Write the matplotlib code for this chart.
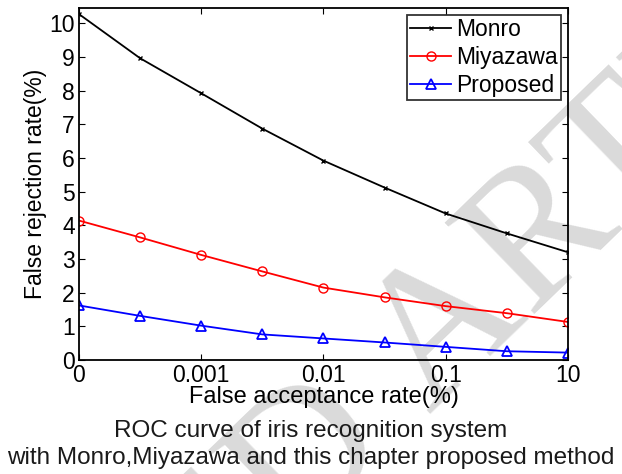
import matplotlib.pyplot as plt

plt.rcParams['font.family'] = ['Liberation Sans', 'DejaVu Sans']

# x positions are evenly spaced categories; only some get a label
tick_pos = [0, 2, 4, 6, 8]
tick_labels = ['0', '0.001', '0.01', '0.1', '10']

monro = [10.27, 8.96, 7.92, 6.87, 5.92, 5.12, 4.35, 3.76, 3.20]
miyazawa = [4.14, 3.64, 3.12, 2.63, 2.15, 1.86, 1.60, 1.39, 1.13]
proposed = [1.62, 1.31, 1.02, 0.76, 0.64, 0.52, 0.39, 0.26, 0.22]
x = list(range(len(monro)))

fs = 16.5

fig = plt.figure(figsize=(6.22, 4.74), dpi=100)
ax = fig.add_axes([0.127, 0.2405, 0.786, 0.7425])
ax.set_facecolor('none')

# faint watermark behind the plot
wm = dict(fontsize=140, color='#dadada', rotation=44, family='Liberation Serif',
          va='baseline', rotation_mode='anchor', zorder=-5)
fig.text(0.69, 0.125, 'ARTICLE', ha='left', **wm)
fig.text(0.69, 0.125, 'ACCEPTED ', ha='right', **wm)

ax.plot(x, monro, color='k', marker='x', markersize=3.5, lw=1.3, label='Monro')
ax.plot(x, miyazawa, color='r', marker='o', markersize=6.5, mfc='none', lw=1.3, label='Miyazawa')
ax.plot(x, proposed, color='b', marker='^', markersize=7, mfc='none', mew=1.3, lw=1.3, label='Proposed')

ax.set_xlim(0, 8)
ax.set_ylim(0, 10.45)
ax.set_xticks(tick_pos)
ax.set_xticklabels(tick_labels)
ax.set_yticks(range(0, 11))
ax.tick_params(direction='in', top=True, right=True, labelsize=fs, length=4, pad=3)
for s in ax.spines.values():
    s.set_linewidth(1.3)

ax.set_xlabel('False acceptance rate(%)', fontsize=fs + 0.5, labelpad=-1)
ax.set_ylabel('False rejection rate(%)', fontsize=fs, labelpad=2)

leg = ax.legend(loc='upper right', fontsize=fs, frameon=True, fancybox=False,
                edgecolor='k', handlelength=1.8, handletextpad=0.2,
                borderpad=0.15, labelspacing=0.2, borderaxespad=0.3)
leg.get_frame().set_linewidth(1.3)

fig.text(0.5, 0.09, 'ROC curve of iris recognition system', fontsize=17.5,
         ha='center', va='center', color='#1a1a1a')
fig.text(0.5, 0.034, 'with Monro,Miyazawa and this chapter proposed method', fontsize=17.5,
         ha='center', va='center', color='#1a1a1a')

fig.savefig('out.png', dpi=100)
